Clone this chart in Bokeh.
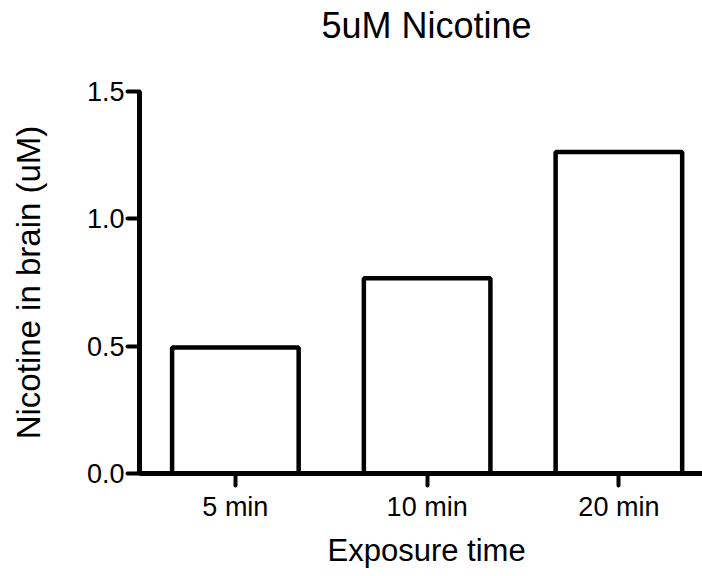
from bokeh.plotting import figure
from bokeh.models import Range1d, FixedTicker, Title
from bokeh.embed import file_html
from bokeh.resources import INLINE

categories = ["5 min", "10 min", "20 min"]
values = [0.495, 0.767, 1.262]
y_ticks = [0.0, 0.5, 1.0, 1.5]
y_tick_labels = ["0.0", "0.5", "1.0", "1.5"]
title_text = "5uM Nicotine"
x_title = "Exposure time"
y_title = "Nicotine in brain (uM)"

FONT = "Liberation Sans"
xs = list(range(len(categories)))

p = figure(width=702, height=576, output_backend="svg", toolbar_location=None,
           x_range=Range1d(-0.5, 2.436), y_range=Range1d(0, 1.5),
           min_border_left=139, min_border_right=0, min_border_top=90, min_border_bottom=103)

p.vbar(x=xs, top=values, bottom=0, width=0.66, fill_color="white",
       line_color="black", line_width=4.5)

p.title.text = ""
# spacer between the frame and the title (first item above is nearest the frame)
p.add_layout(Title(text=" ", text_font_size="2px", standoff=40, text_color="white"), "above")
p.add_layout(Title(text=title_text, align="left", offset=182, standoff=4, text_font=FONT,
                   text_font_size="36px", text_font_style="normal", text_color="black"), "above")

p.add_layout(Title(text=x_title, align="left", offset=188, standoff=13, text_font=FONT,
                   text_font_size="31px", text_font_style="normal", text_color="black"), "below")

p.xgrid.visible = False
p.ygrid.visible = False
p.outline_line_color = None
p.background_fill_color = "white"
p.border_fill_color = "white"

for ax in (p.xaxis[0], p.yaxis[0]):
    ax.axis_line_color = "black"
    ax.axis_line_width = 5
    ax.major_tick_line_color = "black"
    ax.major_tick_line_width = 4
    ax.major_tick_line_cap = "round"
    ax.major_tick_out = 12
    ax.major_tick_in = 0
    ax.minor_tick_line_color = None
    ax.major_label_text_font = FONT
    ax.major_label_text_font_size = "27px"
    ax.major_label_text_color = "black"

p.xaxis.ticker = FixedTicker(ticks=xs)
p.xaxis.major_label_overrides = {i: c for i, c in zip(xs, categories)}
p.xaxis.major_label_standoff = 6

p.yaxis.ticker = FixedTicker(ticks=y_ticks)
p.yaxis.major_label_overrides = {t: l for t, l in zip(y_ticks, y_tick_labels)}
p.yaxis.major_label_standoff = 3
p.yaxis.axis_label = y_title
p.yaxis.axis_label_text_font = FONT
p.yaxis.axis_label_text_font_size = "33px"
p.yaxis.axis_label_text_font_style = "normal"
p.yaxis.axis_label_text_color = "black"
p.yaxis.axis_label_standoff = 37

open("out.html", "w").write(file_html(p, INLINE))
